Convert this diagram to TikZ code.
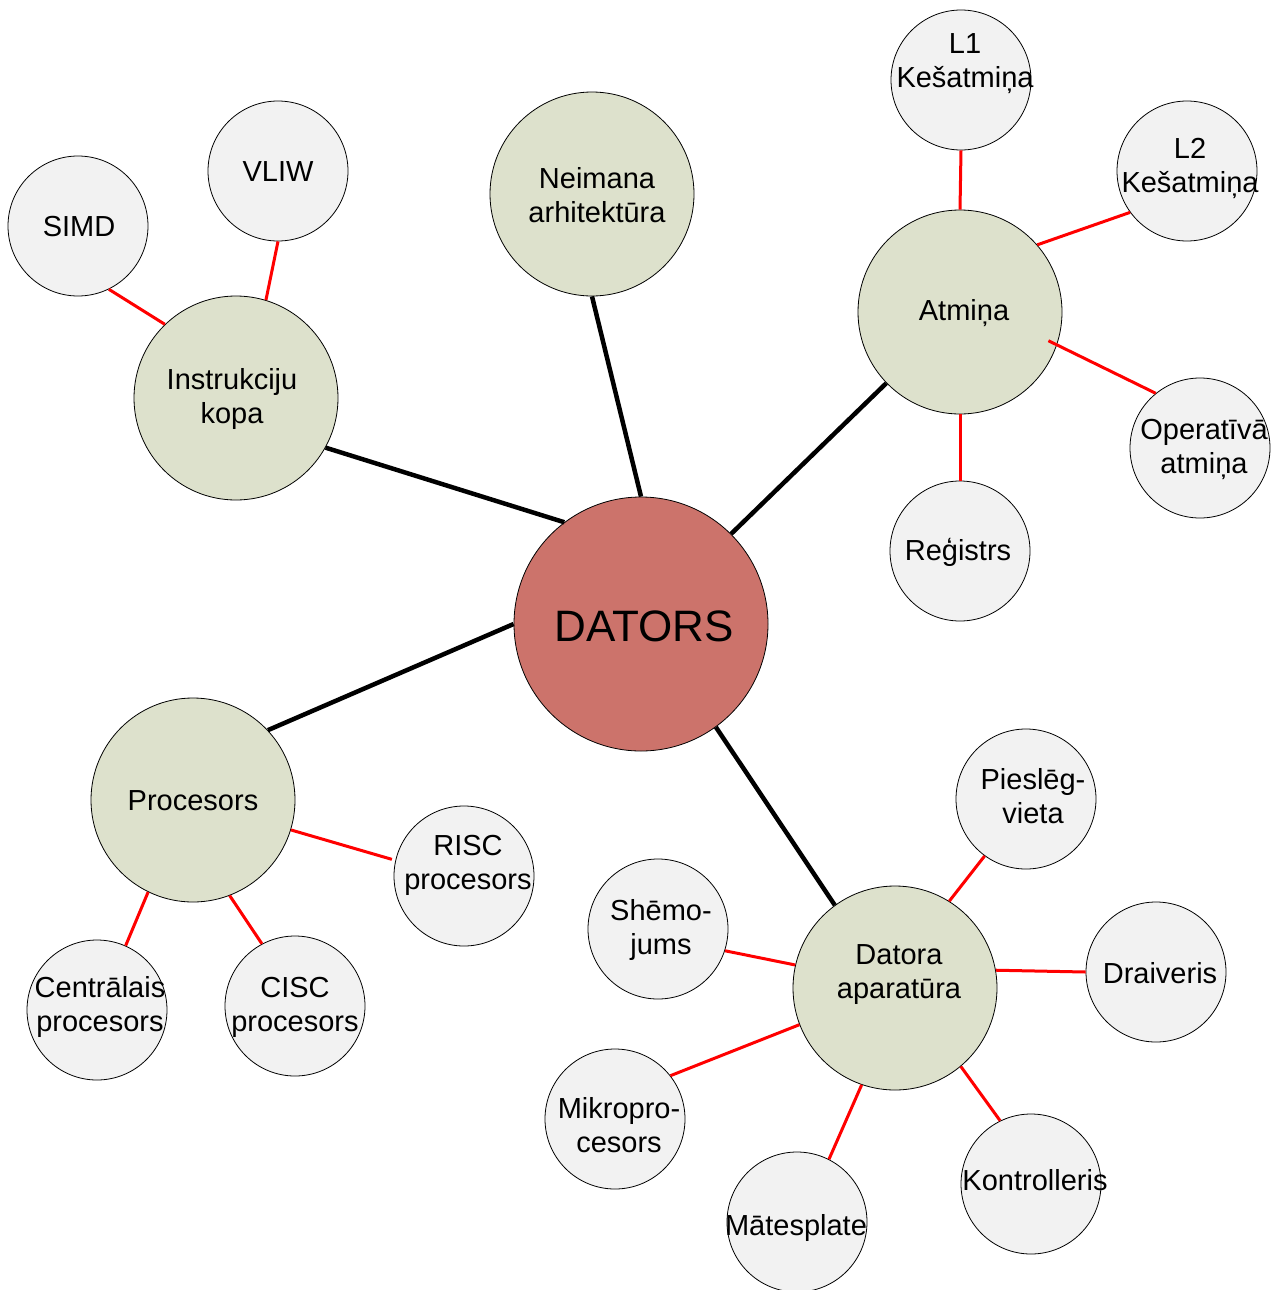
\documentclass[tikz,border=0pt]{standalone}
\usepackage{fontspec}
\setmainfont{Liberation Sans}
\usetikzlibrary{calc}
\definecolor{rootfill}{RGB}{204,115,107}
\definecolor{topicfill}{RGB}{221,225,204}
\definecolor{leaffill}{RGB}{242,242,242}
\definecolor{leafline}{RGB}{255,0,0}
\begin{document}
\begin{tikzpicture}[x=1pt,y=-1pt,
  every node/.style={circle,draw=black,line width=0.8pt,inner sep=0pt,align=center,
    font=\fontsize{29}{34}\selectfont},
  root/.style={fill=rootfill,minimum size=254pt,font=\fontsize{44}{50}\selectfont},
  topic/.style={fill=topicfill,minimum size=204pt},
  leaf/.style={fill=leaffill,minimum size=140pt},
  txt/.style={draw=none,fill=none,minimum size=0pt,inner sep=0pt},
  trunk/.style={line width=4.5pt,black},
  twig/.style={line width=3pt,leafline}]
\useasboundingbox (0,0) rectangle (1274,1290);

% central node and main topics
\node[root]  (dat)  at (641,624) {};
\node[txt,font=\fontsize{44}{50}\selectfont] (datt) at (644,626) {DATORS};
\node[topic] (neim) at (592,194) {};
\node[txt]   (neimt) at (597,195) {Neimana\\arhitektūra};
\node[topic] (atm)  at (960,312) {};
\node[txt]   (atmt) at (964,313) {Atmiņa};
\node[topic] (ins)  at (236,398) {};
\node[txt]   (inst) at (232,399) {Instrukciju\\kopa};
\node[topic] (pro)  at (193,800) {};
\node[txt]   (prot) at (193,801) {Procesors};
\node[topic] (apa)  at (895,988) {};
\node[txt]   (apat) at (899,975) {Datora\\aparatūra};

% memory leaves
\node[leaf] (l1)   at (961,80)  {};
\node[txt]  (l1t)  at (965,64)  {L1\\Kešatmiņa};
\node[leaf] (l2)   at (1187,171) {};
\node[txt]  (l2t)  at (1190,168) {L2\\Kešatmiņa};
\node[leaf] (ope)  at (1200,448) {};
\node[txt]  (opet) at (1204,449) {Operatīvā\\atmiņa};
\node[leaf] (reg)  at (960,551) {};
\node[txt]  (regt) at (958,552) {Reģistrs};

% instruction set leaves
\node[leaf] (vliw) at (278,171) {};
\node[txt]  (vliwt) at (278,172) {VLIW};
\node[leaf] (simd) at (78,226)  {};
\node[txt]  (simdt) at (79,227) {SIMD};

% processor leaves
\node[leaf] (risc) at (464,876) {};
\node[txt]  (risct) at (468,865) {RISC\\procesors};
\node[leaf] (cisc) at (295,1006) {};
\node[txt]  (ciscct) at (295,1007) {CISC\\procesors};
\node[leaf] (cen)  at (97,1010)  {};
\node[txt]  (cent) at (100,1007) {Centrālais\\procesors};

% hardware leaves
\node[leaf] (shem) at (658,929)  {};
\node[txt]  (shemt) at (661,930) {Shēmo-\\jums};
\node[leaf] (pies) at (1026,799) {};
\node[txt]  (piest) at (1033,796) {Pieslēg-\\vieta};
\node[leaf] (drv)  at (1156,972) {};
\node[txt]  (drvt) at (1160,973) {Draiveris};
\node[leaf] (kon)  at (1031,1184) {};
\node[txt]  (kont) at (1035,1180) {Kontrolleris};
\node[leaf] (mat)  at (797,1222) {};
\node[txt]  (matt) at (796,1228) {Mātesplate};
\node[leaf] (mik)  at (615,1119) {};
\node[txt]  (mikt) at (619,1125) {Mikropro-\\cesors};

% trunk connectors
\draw[trunk] (neim.-90) -- (dat.90);
\draw[trunk] (atm.224)  -- (dat.45);
\draw[trunk] (ins.-29)  -- (dat.127);
\draw[trunk] (pro.43)   -- (dat.180);
\draw[trunk] (apa.126)  -- (dat.-54);

% leaf connectors
\draw[twig] (l1.-90)  -- (atm.90);
\draw[twig] (l2.216)  -- (atm.41);
\draw[twig] (ope.129) -- ($(atm.center)+(-18:93pt)$);
\draw[twig] (reg.90)  -- (atm.-90);
\draw[twig] (vliw.-90) -- (ins.73);
\draw[twig] (simd.-64) -- (ins.134);
\draw[twig] ($(risc.center)+(167:74pt)$) -- (pro.-17);
\draw[twig] (cisc.118) -- (pro.-69);
\draw[twig] (cen.66)   -- (pro.-116);
\draw[twig] (shem.-18) -- (apa.167);
\draw[twig] (pies.234) -- (apa.58);
\draw[twig] (drv.180)  -- (apa.10);
\draw[twig] (kon.116)  -- (apa.-50);
\draw[twig] (mat.63)   -- (apa.-109);
\draw[twig] (mik.38)   -- (apa.201);
\end{tikzpicture}
\end{document}
